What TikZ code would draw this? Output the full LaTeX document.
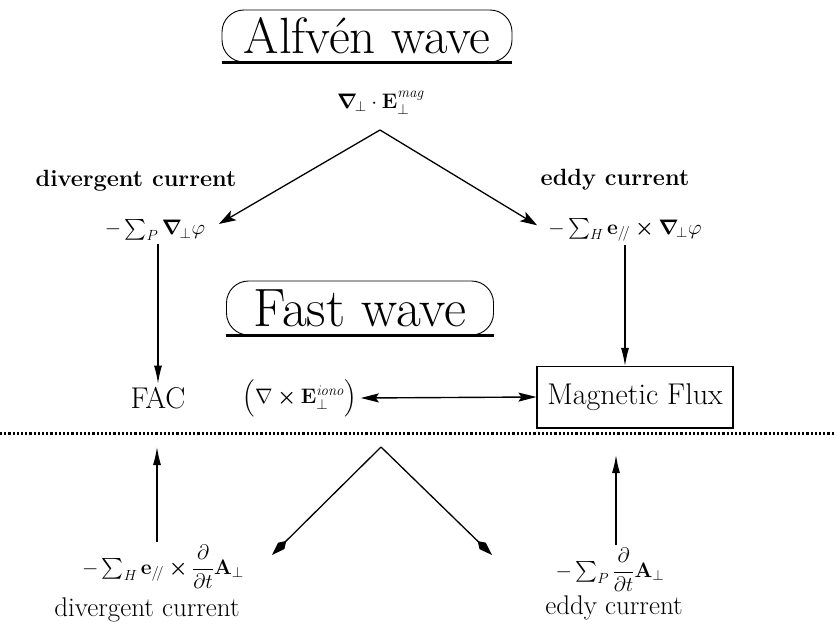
\RequirePackage{fix-cm}
\documentclass[tikz,border=0pt]{standalone}
\usepackage{amsmath,bm}
\usetikzlibrary{arrows.meta}
\begin{document}
\begin{tikzpicture}[x=1pt,y=-1pt,
  title/.style={draw, line width=0.9pt, rounded corners=22pt, font=\fontsize{51}{54}\selectfont, inner sep=0pt},
  lbl/.style={font=\fontsize{23.5}{26}\selectfont\bfseries},
  lblr/.style={font=\fontsize{27}{30}\selectfont},
  frm/.style={font=\fontsize{21}{25}\selectfont},
  big/.style={font=\fontsize{30}{34}\selectfont},
  arr/.style={-{Stealth[length=17pt,width=11pt,inset=4pt]}, line width=1.3pt},
  varr/.style={-{Latex[length=18pt,width=8pt]}, line width=1.2pt},
  darr/.style={{Stealth[length=18pt,width=9pt,inset=3pt]}-{Stealth[length=18pt,width=9pt,inset=3pt]}, line width=1.4pt},
  karr/.style={-{Kite[length=20pt,width=9pt,inset=7pt]}, line width=1.3pt}]
\useasboundingbox (0,0) rectangle (834,634);

% Alfven wave title
\node[title, minimum width=290pt, minimum height=52pt] (alf) at (367,36) {Alfvén wave};
\draw[line width=2.2pt] (alf.south west) -- (alf.south east);

\node[frm] (mag) at (381,103) {$\boldsymbol{\nabla}_{\!\perp}\cdot\mathbf{E}_{\perp}^{\mathit{mag}}$};
\coordinate (top) at (380,130);

\node[lbl] (dc1) at (136,181) {divergent current};
\node[lbl] (ec1) at (615,180) {eddy current};

\node[frm] (sp) at (155,230) {$-\textstyle\sum_{P}\boldsymbol{\nabla}_{\!\perp}\varphi$};
\node[frm] (sh) at (625,230) {$-\textstyle\sum_{H}\mathbf{e}_{/\!/}\boldsymbol{\times}\boldsymbol{\nabla}_{\!\perp}\varphi$};

\draw[arr, shorten >=12pt] (top) -- (sp.east);
\draw[arr, shorten >=9pt] (top) -- (sh.west);

% Fast wave title
\node[title, minimum width=267pt, minimum height=54pt, font=\fontsize{54}{57}\selectfont] (fast) at (360,308) {Fast wave};
\draw[line width=2.2pt] (fast.south west) -- (fast.south east);

\node[big] (fac) at (158,398) {FAC};
\node[frm] (curl) at (300,398) {$\Bigl(\nabla\boldsymbol{\times}\mathbf{E}_{\perp}^{\mathit{iono}}\Bigr)$};
\node[big, draw, line width=1.1pt, minimum width=196pt, minimum height=61pt] (mf) at (635,397) {Magnetic Flux};
\draw[line width=2.2pt] (mf.south west) -- (mf.south east);

\draw[varr] (sp.south -| fac.north) -- (fac.north);
\draw[varr] (sh.south) -- (sh.south |- mf.north);
\draw[darr] (curl.east) -- (mf.west);

% dotted separator
\coordinate (dl) at (0,433);
\coordinate (dr) at (834,433);
\draw[line width=3pt, dash pattern=on 2.2pt off 2pt] (dl) -- (dr);

% lower part
\coordinate (bot) at (381,447);
\coordinate (bl) at (272,555);
\coordinate (br) at (492,555);
\draw[karr] (bot) -- (bl);
\draw[karr] (bot) -- (br);

\node[frm] (bh) at (163,567) {$-\textstyle\sum_{H}\mathbf{e}_{/\!/}\boldsymbol{\times}\dfrac{\partial}{\partial t}\mathbf{A}_{\perp}$};
\node[frm] (bp) at (610,570) {$-\textstyle\sum_{P}\dfrac{\partial}{\partial t}\mathbf{A}_{\perp}$};
\coordinate (fl) at (157,447);
\coordinate (fr) at (616,455);
\draw[varr] (bh.north -| fl) -- (fl);
\draw[varr] (bp.north -| fr) -- (fr);

\node[lblr] (dc2) at (147,610) {divergent current};
\node[lblr] (ec2) at (614,608) {eddy current};
\end{tikzpicture}
\end{document}
